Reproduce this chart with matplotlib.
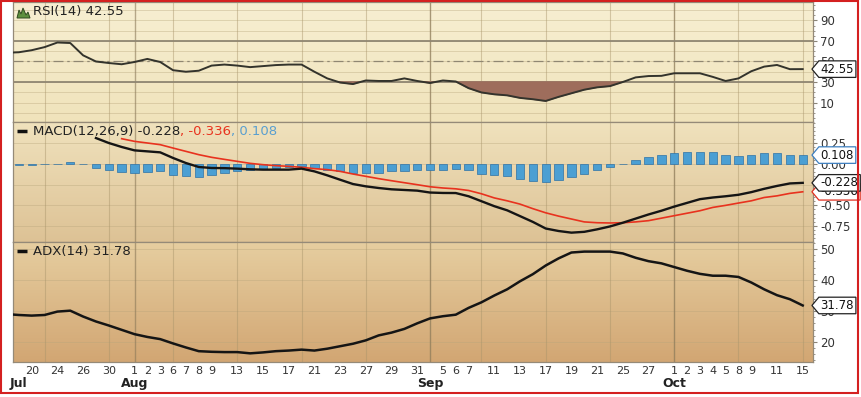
import numpy as np
import pandas as pd
import matplotlib
matplotlib.use("Agg")
import matplotlib.pyplot as plt
from matplotlib.path import Path
from matplotlib.patches import Rectangle, Polygon
from matplotlib.colors import LinearSegmentedColormap
from matplotlib.ticker import FixedLocator, MultipleLocator

plt.rcParams['font.family'] = ['DejaVu Sans']

# trading days Jul 18 - Oct 15 2012 (Labor Day closed)
dates = pd.bdate_range("2012-07-18", "2012-10-15", freq="C", holidays=["2012-09-03"])

rsi = [58.5, 59, 61, 64, 68.5, 68, 56, 50, 48.5, 47.3, 49.5, 52.5, 49.5, 41.5, 40, 41,
       46, 47, 46, 44.5, 45.5, 46.5, 47, 47, 40, 33.5, 29.5, 28, 31.5, 31, 31, 33.5,
       31, 29, 31.5, 30.5, 24, 19.8, 18, 17, 14.5, 13.2, 11.5, 15.5, 19, 22.5, 24.8, 26,
       30, 34.5, 35.8, 36, 38.5, 38.5, 38.5, 35, 31, 33.5, 40.5, 45, 46.6, 42.5, 42.55]

macd = [np.nan] * 7 + [
    0.314, 0.254, 0.206, 0.165, 0.153, 0.141, 0.073, 0.012, -0.036, -0.048, -0.050,
    -0.056, -0.064, -0.068, -0.068, -0.068, -0.056, -0.089, -0.137, -0.19, -0.242,
    -0.27, -0.29, -0.306, -0.314, -0.322, -0.345, -0.35, -0.351, -0.39, -0.45, -0.51,
    -0.56, -0.63, -0.70, -0.78, -0.81, -0.83, -0.82, -0.79, -0.755, -0.71, -0.66,
    -0.61, -0.565, -0.515, -0.47, -0.425, -0.405, -0.39, -0.372, -0.34, -0.30,
    -0.265, -0.235, -0.228]

signal = [np.nan] * 9 + [
    0.306, 0.274, 0.254, 0.234, 0.193, 0.153, 0.113, 0.081, 0.056, 0.032, 0.008,
    -0.008, -0.02, -0.028, -0.04, -0.056, -0.068, -0.089, -0.121, -0.149, -0.177,
    -0.202, -0.226, -0.25, -0.275, -0.29, -0.30, -0.32, -0.36, -0.41, -0.445, -0.485,
    -0.54, -0.59, -0.63, -0.665, -0.70, -0.71, -0.713, -0.71, -0.70, -0.685, -0.655,
    -0.625, -0.595, -0.565, -0.525, -0.50, -0.472, -0.445, -0.405, -0.385, -0.355,
    -0.336]

hist = [-0.005, -0.008, -0.008, -0.005, 0.005, 0.02, 0.004,
        -0.05, -0.07, -0.097, -0.109, -0.097, -0.08, -0.129, -0.149, -0.161, -0.129,
        -0.109, -0.089, -0.07, -0.06, -0.05, -0.04, -0.03, -0.05, -0.07, -0.089, -0.109,
        -0.109, -0.109, -0.089, -0.08, -0.07, -0.069, -0.069, -0.056, -0.069, -0.12,
        -0.13, -0.15, -0.18, -0.20, -0.22, -0.19, -0.16, -0.117, -0.069, -0.036, 0.004,
        0.052, 0.085, 0.113, 0.133, 0.145, 0.145, 0.145, 0.113, 0.10, 0.113, 0.133,
        0.133, 0.113, 0.108]

adx = [29.0, 28.7, 28.5, 28.7, 29.8, 30.1, 28.2, 26.6, 25.3, 23.9, 22.5, 21.6, 20.9,
       19.5, 18.2, 17.0, 16.8, 16.7, 16.7, 16.3, 16.6, 17.0, 17.2, 17.5, 17.2, 17.8,
       18.6, 19.4, 20.5, 22.1, 23.0, 24.2, 26.0, 27.6, 28.3, 28.8, 31.0, 32.8, 35.0,
       37.0, 39.6, 41.9, 44.7, 47.0, 48.9, 49.2, 49.2, 49.2, 48.6, 47.2, 46.1, 45.4,
       44.2, 43.0, 42.0, 41.4, 41.4, 41.0, 39.2, 37.0, 35.1, 33.8, 31.78]

tick_dates = ["2012-07-20", "2012-07-24", "2012-07-26", "2012-07-30", "2012-08-01",
              "2012-08-02", "2012-08-03", "2012-08-06", "2012-08-07", "2012-08-08",
              "2012-08-09", "2012-08-13", "2012-08-15", "2012-08-17", "2012-08-21",
              "2012-08-23", "2012-08-27", "2012-08-29", "2012-08-31", "2012-09-05",
              "2012-09-06", "2012-09-07", "2012-09-11", "2012-09-13", "2012-09-17",
              "2012-09-19", "2012-09-21", "2012-09-25", "2012-09-27", "2012-10-01",
              "2012-10-02", "2012-10-03", "2012-10-04", "2012-10-05", "2012-10-08",
              "2012-10-09", "2012-10-11", "2012-10-15"]
month_dates = ["2012-07-19", "2012-08-01", "2012-09-04", "2012-10-01"]
month_names = ["Jul", "Aug", "Sep", "Oct"]

x = np.arange(len(dates))
pos = {d.strftime("%Y-%m-%d"): i for i, d in enumerate(dates)}
rsi = np.array(rsi)

# week starts and month starts for the vertical grid
week_lines = [i for i in range(1, len(dates)) if dates[i].weekday() < dates[i - 1].weekday()]
month_lines = [i for i in range(1, len(dates)) if dates[i].month != dates[i - 1].month]


def tag_path(x0, y0, width, height, mutation_size):
    pad = 0.15 * mutation_size
    x0, y0 = x0 - pad, y0 - pad
    x1, y1 = x0 + width + 2 * pad, y0 + height + 2 * pad
    tip = (y1 - y0) * 0.42
    verts = [(x0, y0), (x1, y0), (x1, y1), (x0, y1), (x0 - tip, (y0 + y1) / 2), (x0, y0)]
    return Path(verts, closed=True)


def tag(ax, y, text, edge, z=6):
    ax.annotate(text, xy=(1, y), xycoords=ax.get_yaxis_transform(),
                xytext=(5.5, 0), textcoords="offset points", ha="left", va="center",
                fontsize=8.5, color="#111111", annotation_clip=False, zorder=z,
                bbox=dict(boxstyle=tag_path, fc="white", ec=edge, lw=0.9))


def setup(ax, top, bottom, ylim, yticks, ylabels, minor, hgrid):
    grad = np.linspace(0, 1, 256).reshape(-1, 1)
    cmap = LinearSegmentedColormap.from_list("bg", [top, bottom])
    ax.imshow(grad, aspect="auto", cmap=cmap, extent=[0, 1, 0, 1],
              transform=ax.transAxes, zorder=0, interpolation="bilinear")
    for h in hgrid:
        ax.axhline(h, color="#b8a67c", lw=0.6, alpha=0.45, zorder=1)
    for w in week_lines:
        ax.axvline(w, color="#a8946a", lw=0.8, alpha=0.45, zorder=1)
    for m in month_lines:
        ax.axvline(m, color="#8a7858", lw=1.0, alpha=0.6, zorder=1)
    ax.set_xlim(0.545, 62.8)
    ax.set_ylim(*ylim)
    ax.yaxis.tick_right()
    ax.yaxis.set_major_locator(FixedLocator(yticks))
    ax.set_yticklabels(ylabels)
    ax.yaxis.set_minor_locator(MultipleLocator(minor))
    ax.tick_params(axis="y", which="major", length=3, width=0.8, colors="#8a8478",
                   labelcolor="#333333", labelsize=8.5, pad=2)
    ax.tick_params(axis="y", which="minor", length=1.5, width=0.6, colors="#8a8478")
    ax.tick_params(axis="x", length=0, labelbottom=False)
    for s in ax.spines.values():
        s.set_color("#958a78")
        s.set_linewidth(0.9)


fig = plt.figure(figsize=(8.62, 3.97), dpi=100)
L, W, H = 13 / 862, 800 / 862, 120 / 397
ax_r = fig.add_axes([L, 275 / 397, W, H])
ax_m = fig.add_axes([L, 155 / 397, W, H])
ax_a = fig.add_axes([L, 35 / 397, W, H])

# RSI
setup(ax_r, "#f7efd2", "#f0e3bb", (-9, 108), [90, 70, 50, 30, 10],
      ["90", "70", "50", "30", "10"], 5, range(0, 101, 10))
ax_r.axhline(70, color="#8f8672", lw=1.3, zorder=2)
ax_r.axhline(30, color="#8f8672", lw=1.3, zorder=2)
ax_r.axhline(50, color="#8f8672", lw=0.9, dashes=(8, 3, 2, 3), zorder=2)
ax_r.fill_between(x, rsi, 30, where=rsi < 30, interpolate=True, color="#9e6d5c", zorder=2)
ax_r.plot(x, rsi, color="#33332c", lw=1.4, zorder=3)
tag(ax_r, rsi[-1], "42.55", "#222222")
icon = [(4, 16), (6, 8), (8, 12), (10, 6), (13, 13), (15, 10), (17, 16)]
ax_r.add_patch(Polygon([(px / 800, 1 - py / 120) for px, py in icon], closed=True,
                       transform=ax_r.transAxes, fc="#5d8f3e", ec="#2f4a20", lw=0.7,
                       zorder=5, clip_on=False))
ax_r.annotate("RSI(14) 42.55", xy=(0, 1), xycoords="axes fraction", xytext=(14.5, -6.5),
              textcoords="offset points", va="center", ha="left", fontsize=9.5,
              color="#222222", zorder=6)

# MACD
setup(ax_m, "#f0e2bd", "#ddc295", (-0.943, 0.508), [0.25, 0, -0.25, -0.5, -0.75],
      ["0.25", "0.00", "-0.25", "-0.50", "-0.75"], 0.05, [0.25, 0, -0.25, -0.5, -0.75])
ax_m.bar(x, hist, width=0.65, color="#4b9fd3", edgecolor="#2d72a6", lw=0.5, zorder=2)
ax_m.plot(x, signal, color="#e8321e", lw=1.2, zorder=3)
ax_m.plot(x, macd, color="#151515", lw=1.7, zorder=4)
tag(ax_m, 0.108, "0.108", "#3d7fc0", 6)
tag(ax_m, -0.336, "-0.336", "#e03020", 6)
tag(ax_m, -0.228, "-0.228", "#222222", 7)
ax_m.plot([4 / 800, 14 / 800], [1 - 9 / 120] * 2, transform=ax_m.transAxes,
          color="#111111", lw=2.5, solid_capstyle="butt", clip_on=False, zorder=6)
t1 = ax_m.annotate("MACD(12,26,9) -0.228", xy=(0, 1), xycoords="axes fraction",
                   xytext=(14.5, -6.5), textcoords="offset points", va="center",
                   ha="left", fontsize=9.5, color="#222222", zorder=6)
t2 = ax_m.annotate(", -0.336", xy=(1, 0), xycoords=t1, va="bottom", ha="left",
                   fontsize=9.5, color="#e8321e", zorder=6)
ax_m.annotate(", 0.108", xy=(1, 0), xycoords=t2, va="bottom", ha="left",
              fontsize=9.5, color="#5a9fcf", zorder=6)

# ADX
setup(ax_a, "#e6cea0", "#d2a673", (13.5, 52.3), [50, 40, 30, 20],
      ["50", "40", "30", "20"], 2, [50, 40, 30, 20])
ax_a.plot(x, adx, color="#151515", lw=1.8, zorder=3)
tag(ax_a, adx[-1], "31.78", "#222222")
ax_a.plot([4 / 800, 14 / 800], [1 - 9 / 120] * 2, transform=ax_a.transAxes,
          color="#111111", lw=2.5, solid_capstyle="butt", clip_on=False, zorder=6)
ax_a.annotate("ADX(14) 31.78", xy=(0, 1), xycoords="axes fraction", xytext=(14.5, -6.5),
              textcoords="offset points", va="center", ha="left", fontsize=9.5,
              color="#222222", zorder=6)

# date axis
ax_a.set_xticks([pos[d] for d in tick_dates])
ax_a.set_xticklabels([str(int(d[-2:])) for d in tick_dates])
ax_a.tick_params(axis="x", length=0, labelbottom=True, labelsize=8,
                 labelcolor="#333333", pad=3)
for d, name in zip(month_dates, month_names):
    ax_a.annotate(name, xy=(pos[d], 0), xycoords=("data", "axes fraction"),
                  xytext=(0, -15.5), textcoords="offset points", ha="center", va="center",
                  fontsize=9, fontweight="bold", color="#222222", annotation_clip=False)

# red frame round the image
fig.patches.append(Rectangle((1 / 862, 4 / 397), 857 / 862, 392 / 397, fill=False,
                             ec="#d42020", lw=1.5, transform=fig.transFigure, figure=fig))

fig.savefig("out.png", dpi=100)
